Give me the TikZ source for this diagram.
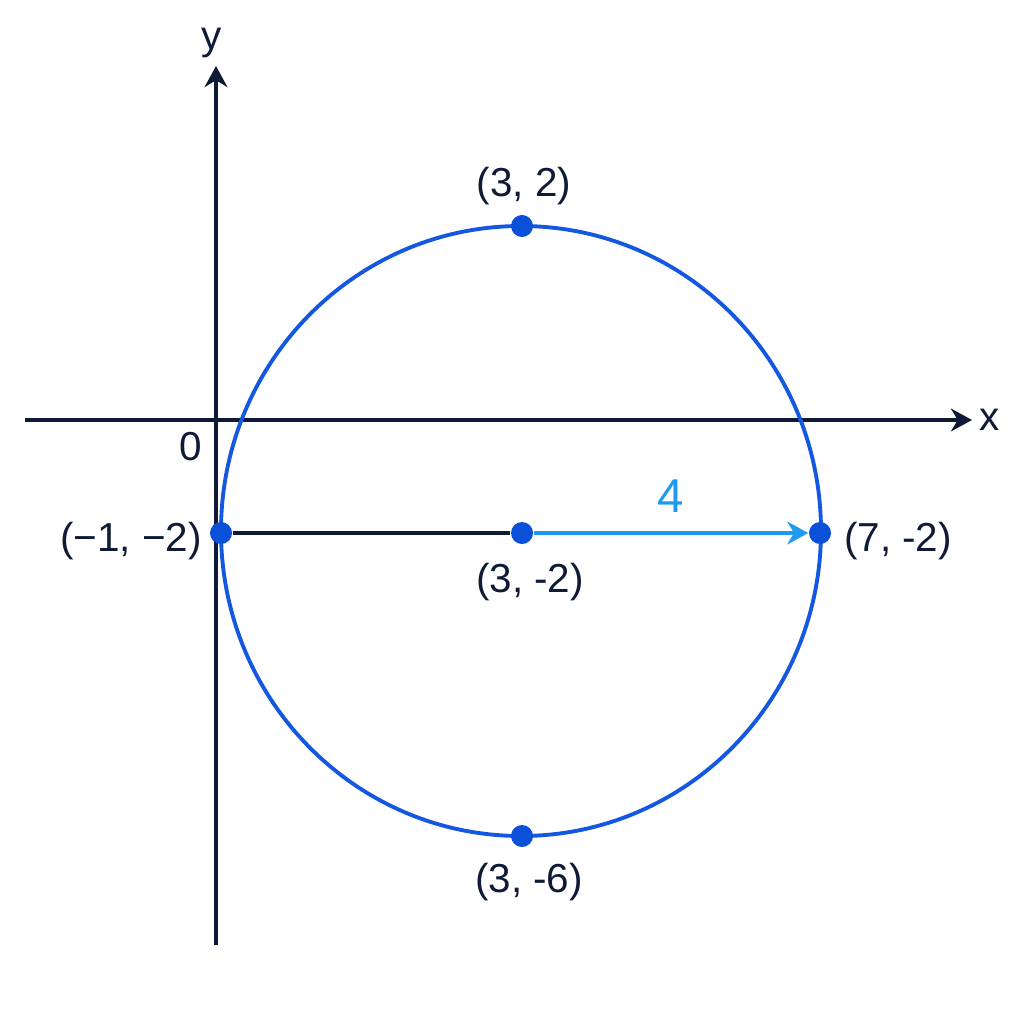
\documentclass[tikz,border=0pt]{standalone}
\usepackage{fontspec}
\setmainfont{Liberation Sans}
\usetikzlibrary{arrows.meta}
\definecolor{axiscol}{HTML}{0F1A36}
\definecolor{circcol}{HTML}{1457E0}
\definecolor{dotcol}{HTML}{0B50D8}
\definecolor{radcol}{HTML}{1E9BF0}
\tikzset{>={Stealth[length=6pt,width=6.5pt]}}
\tikzset{axis/.style={draw=axiscol,line width=1.1pt},
         dot/.style={circle,fill=dotcol,inner sep=0pt,minimum size=0.22cm}}

\begin{document}
\begin{tikzpicture}[x=0.01cm,y=-0.01cm,font=\fontsize{11.5}{13}\selectfont,text=axiscol]
            \draw[draw=none,use as bounding box] (0,0) rectangle (1024,1024);
            % axes
            \coordinate (xs) at (25,420);
            \coordinate (xe) at (972,420);
            \coordinate (ys) at (216,945);
            \coordinate (ye) at (216,66);
            \draw[axis,->] (xs) -- (xe);
            \draw[axis,->] (ys) -- (ye);
            \node (xl) at (990,420) {x};
            \node[anchor=base] (yl) at (212,49) {y};
            \node (ol) at (191,447) {0};
            % circle
            \coordinate (m) at (521,531);
            \draw[circcol,line width=1.1pt] (m) ellipse [x radius=300,y radius=305];
            % points
            \node[dot] (c) at (522,533) {};
            \node[dot] (t) at (522,226) {};
            \node[dot] (b) at (522,836) {};
            \node[dot] (l) at (221,533) {};
            \node[dot] (r) at (820,533) {};
            \draw[axiscol,line width=1pt] (l) -- (c);
            \draw[radcol,line width=1.1pt,->] (c) -- node[above=2pt,font=\fontsize{13.5}{15}\selectfont,text=radcol]{4} (r);
            \node (tl) at (524,186) {(3, 2)};
            \node (bl) at (529,882) {(3, -6)};
            \node (ll) at (131,541) {(−1, −2)};
            \node (cl) at (530,582) {(3, -2)};
            \node (rl) at (898,541) {(7, -2)};
        \end{tikzpicture}
\end{document}
